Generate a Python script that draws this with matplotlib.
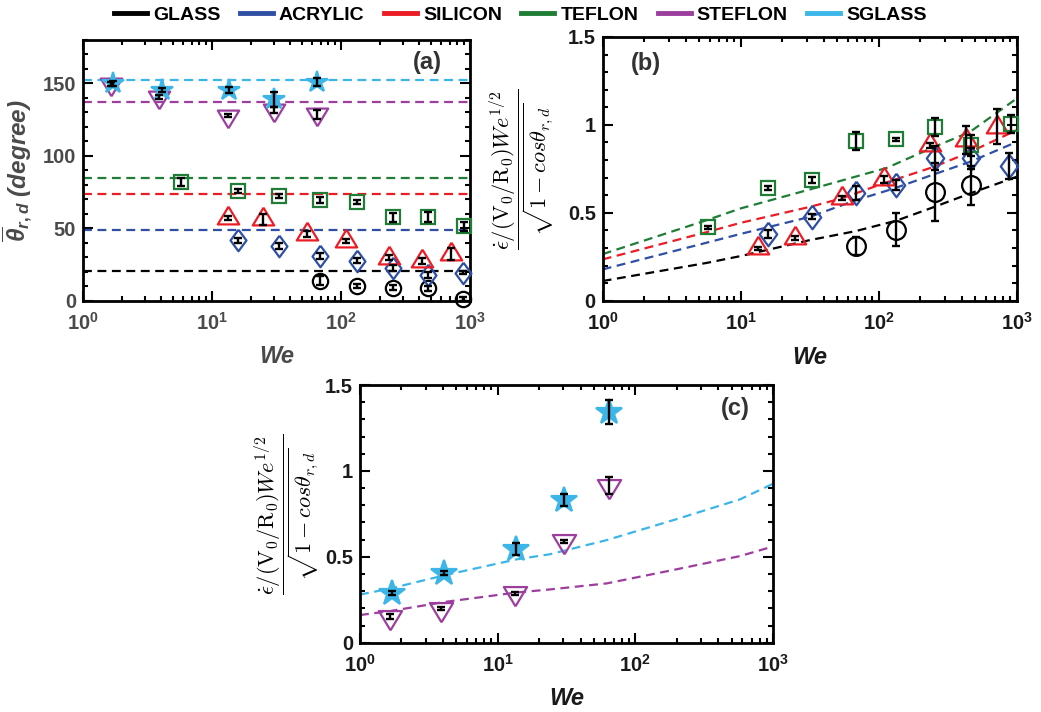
import numpy as np
import matplotlib
matplotlib.use("Agg")
import matplotlib.pyplot as plt
from matplotlib.lines import Line2D
from matplotlib.ticker import LogLocator, MultipleLocator, FixedLocator, FuncFormatter, NullFormatter

plt.rcParams['font.family'] = 'Liberation Sans'
plt.rcParams['font.weight'] = 'bold'
plt.rcParams['mathtext.fontset'] = 'custom'
plt.rcParams['mathtext.rm'] = 'Liberation Sans:bold'
plt.rcParams['mathtext.bf'] = 'Liberation Sans:bold'
plt.rcParams['mathtext.it'] = 'Liberation Sans:italic:bold'

# --- surfaces ---
materials = ['GLASS', 'ACRYLIC', 'SILICON', 'TEFLON', 'STEFLON', 'SGLASS']
colors = ['#000000', '#2e4fa3', '#ec1c24', '#1f7d35', '#9c3e9e', '#3cb6e8']

# Weber numbers of the impacts
we_glass = [69, 133, 255, 470, 890]
we_acrylic = [15.8, 33, 68.5, 133, 255, 470, 880]
we_silicon = [13.3, 24.8, 54.5, 110, 236, 426, 715]
we_teflon = [5.8, 15.8, 33, 68.5, 133, 255, 470, 905]
we_steflon = [1.65, 3.9, 13.4, 30.2, 64.6]
we_sglass = [1.7, 4.1, 13.6, 30.3, 64.8]

# (a) mean dynamic receding angle [deg]
theta_glass = [13.9, 10.2, 9.0, 8.5, 1.0]
theta_acrylic = [41.6, 38.0, 31.0, 27.7, 22.4, 17.8, 19.2]
theta_silicon = [57.1, 56.2, 45.8, 41.4, 29.8, 27.5, 32.4]
theta_teflon = [82.0, 75.6, 72.1, 69.8, 68.2, 57.5, 57.5, 51.3]
theta_steflon = [149.5, 140.7, 127.6, 131.5, 128.7]
theta_sglass = [150.0, 145.4, 145.4, 139.0, 151.0]
theta_glass_err = [3, 1.5, 1.5, 1.5, 1.5]
theta_acrylic_err = [2, 2, 2, 1.5, 2, 2, 1]
theta_silicon_err = [1.5, 4, 2, 1.5, 1.5, 2, 4]
theta_teflon_err = [3, 1.5, 1.5, 2, 1.5, 3, 3.5, 3]
theta_steflon_err = [1.5, 1.5, 1, 2, 3]
theta_sglass_err = [2, 1.5, 2, 5, 3]
# static receding angles (dashed)
theta_static = [20.8, 49.0, 74.0, 84.8, 137.3, 152.5]

# (b), (c) scaled retraction rate
rate_glass = [0.31, 0.405, 0.62, 0.657]
rate_acrylic = [0.379, 0.477, 0.61, 0.657, 0.8125, 0.81, 0.765]
rate_silicon = [0.297, 0.358, 0.585, 0.69, 0.884, 0.915, 0.99]
rate_teflon = [0.417, 0.642, 0.686, 0.907, 0.917, 0.989, 0.884, 1.004]
rate_steflon = [0.152, 0.199, 0.288, 0.59, 0.915]
rate_sglass = [0.288, 0.408, 0.546, 0.83, 1.343]
rate_glass_err = [0.05, 0.095, 0.165, 0.11]
rate_acrylic_err = [0.025, 0.015, 0.04, 0.03, 0.07, 0.06, 0.075]
rate_silicon_err = [0.01, 0.01, 0.01, 0.02, 0.015, 0.08, 0.1]
rate_teflon_err = [0.01, 0.01, 0.015, 0.05, 0.01, 0.05, 0.06, 0.05]
rate_steflon_err = [0.015, 0.01, 0.01, 0.01, 0.048]
rate_sglass_err = [0.012, 0.012, 0.037, 0.035, 0.07]

# model curves
fit_we_glass = [1, 5.67, 10, 31.8, 67.4, 134, 254, 459, 1000]
fit_glass = [0.112, 0.215, 0.254, 0.345, 0.395, 0.455, 0.534, 0.61, 0.705]
fit_we_acrylic = [1, 5.67, 10, 31.8, 67.4, 131, 254, 459, 1000]
fit_acrylic = [0.178, 0.33, 0.38, 0.477, 0.57, 0.64, 0.72, 0.79, 0.903]
fit_we_silicon = [1, 5.67, 10, 31.8, 54, 108, 250, 434, 1000]
fit_silicon = [0.235, 0.39, 0.443, 0.534, 0.582, 0.667, 0.761, 0.837, 0.97]
fit_we_teflon = [1, 5.67, 10, 31.8, 114, 253, 458, 1000]
fit_teflon = [0.265, 0.458, 0.525, 0.633, 0.755, 0.875, 0.96, 1.15]
fit_we_super = [1, 1.65, 4.19, 13.7, 24, 61.8, 188, 575, 1000]
fit_sglass = [0.28, 0.315, 0.394, 0.485, 0.515, 0.597, 0.713, 0.834, 0.925]
fit_steflon = [0.161, 0.184, 0.238, 0.292, 0.31, 0.345, 0.423, 0.504, 0.56]

# marker shapes
diamond = [(0, 1), (0.74, 0), (0, -1), (-0.74, 0), (0, 1)]
tri_up = [(0, 0.553), (0.5, -0.277), (-0.5, -0.277), (0, 0.553)]
tri_dn = [(0, -0.553), (0.5, 0.277), (-0.5, 0.277), (0, -0.553)]

fig = plt.figure(figsize=(10.41, 7.12), dpi=100)
W, H = 1041, 712
ax_a = fig.add_axes([83 / W, (H - 300.7) / H, 387 / W, 260.7 / H])
ax_b = fig.add_axes([602.7 / W, (H - 300.7) / H, 414 / W, 263.7 / H])
ax_c = fig.add_axes([360 / W, (H - 642.7) / H, 413 / W, 257.7 / H])


def pts(x, y, err, marker, color, ms, ax, filled=False):
    ax.plot(x, y, linestyle='none', marker=marker, ms=ms, mew=1.6,
            mec=color, mfc=color if filled else 'none', zorder=3, clip_on=False)
    ax.errorbar(x, y, yerr=err, fmt='none', ecolor='k', elinewidth=1.7,
                capsize=2.6, capthick=1.7, zorder=4, clip_on=False)


def style(ax, tick_col):
    ax.set_xscale('log')
    ax.set_xlim(1, 1000)
    ax.xaxis.set_major_locator(LogLocator(base=10, numticks=5))
    ax.xaxis.set_minor_locator(LogLocator(base=10, subs=np.arange(2, 10), numticks=10))
    ax.xaxis.set_minor_formatter(NullFormatter())
    ax.xaxis.set_major_formatter(FuncFormatter(
        lambda v, p: r'$\mathbf{10^{%d}}$' % round(np.log10(v))))
    for s in ax.spines.values():
        s.set_linewidth(2)
    ax.tick_params(which='both', direction='in', top=True, right=True,
                   width=1.5, labelsize=14.5, labelcolor=tick_col)
    ax.tick_params(which='major', length=7)
    ax.tick_params(which='minor', length=3.5)
    ax.tick_params(axis='x', pad=8)
    ax.tick_params(axis='y', pad=5)
    ax.set_xlabel('We', fontsize=17, fontstyle='italic', fontweight='bold',
                  color=tick_col, va='top')


dash = dict(linestyle=(0, (4, 2.5)), lw=1.6, zorder=2)

# ---- (a) ----
for th, c in zip(theta_static, colors):
    ax_a.axhline(th, color=c, **dash)
pts(we_glass, theta_glass, theta_glass_err, 'o', colors[0], 11, ax_a)
pts(we_acrylic, theta_acrylic, theta_acrylic_err, diamond, colors[1], 15.5, ax_a)
pts(we_silicon, theta_silicon, theta_silicon_err, tri_up, colors[2], 17, ax_a)
pts(we_teflon, theta_teflon, theta_teflon_err, 's', colors[3], 10, ax_a)
pts(we_steflon, theta_steflon, theta_steflon_err, tri_dn, colors[4], 17, ax_a)
pts(we_sglass, theta_sglass, theta_sglass_err, '*', colors[5], 16, ax_a, filled=True)
style(ax_a, '#4a4a4a')
ax_a.set_ylim(0, 180)
ax_a.yaxis.set_major_locator(FixedLocator([0, 50, 100, 150]))
ax_a.yaxis.set_minor_locator(MultipleLocator(10))
ax_a.set_ylabel(r'$\overline{\theta}_{r,d}$ (degree)', fontsize=17.5,
                fontstyle='italic', fontweight='bold', color='#4a4a4a')
ax_a.yaxis.set_label_coords(-0.125, 0.5)
ax_a.xaxis.set_label_coords(0.5, -0.17)
ax_a.text(0.889, 0.912, '(a)', transform=ax_a.transAxes, fontsize=17,
          ha='center', va='center', color='#333333')

# ---- (b) ----
ax_b.plot(fit_we_glass, fit_glass, color=colors[0], **dash)
ax_b.plot(fit_we_acrylic, fit_acrylic, color=colors[1], **dash)
ax_b.plot(fit_we_silicon, fit_silicon, color=colors[2], **dash)
ax_b.plot(fit_we_teflon, fit_teflon, color=colors[3], **dash)
pts(we_glass[:len(rate_glass)], rate_glass, rate_glass_err, 'o', colors[0], 13.5, ax_b)
pts(we_acrylic, rate_acrylic, rate_acrylic_err, diamond, colors[1], 17, ax_b)
pts(we_silicon, rate_silicon, rate_silicon_err, tri_up, colors[2], 17, ax_b)
pts(we_teflon, rate_teflon, rate_teflon_err, 's', colors[3], 10, ax_b)

# ---- (c) ----
ax_c.plot(fit_we_super, fit_sglass, color=colors[5], **dash)
ax_c.plot(fit_we_super, fit_steflon, color=colors[4], **dash)
pts(we_steflon, rate_steflon, rate_steflon_err, tri_dn, colors[4], 18.5, ax_c)
pts(we_sglass, rate_sglass, rate_sglass_err, '*', colors[5], 19, ax_c, filled=True)

rate_label = (r'$\dfrac{\dot{\epsilon}/(\mathrm{V}_0/\mathrm{R}_0)We^{1/2}}'
              r'{\sqrt{1-cos\theta_{r,d}}}$')
for ax, tag, tx, ty, lx in [(ax_b, '(b)', 0.105, 0.90, -0.112),
                            (ax_c, '(c)', 0.908, 0.907, -0.095)]:
    style(ax, '#1a1a1a')
    ax.set_ylim(0, 1.5)
    ax.yaxis.set_major_locator(FixedLocator([0, 0.5, 1, 1.5]))
    ax.yaxis.set_major_formatter(FuncFormatter(lambda v, p: '%g' % v))
    ax.yaxis.set_minor_locator(MultipleLocator(0.1))
    ax.set_ylabel(rate_label, fontsize=16, math_fontfamily='cm', color='k')
    ax.yaxis.set_label_coords(lx, 0.5)
    ax.xaxis.set_label_coords(0.5, -0.17)
    ax.text(tx, ty, tag, transform=ax.transAxes, fontsize=17,
            ha='center', va='center', color='#333333')

handles = [Line2D([], [], color=c, lw=3.5) for c in colors]
fig.legend(handles, materials, loc='center', bbox_to_anchor=(0.5, 1 - 15 / H),
           ncol=6, frameon=False, fontsize=14, handlelength=1.7,
           handletextpad=0.3, columnspacing=1.0)

fig.savefig('out.png', dpi=100)
